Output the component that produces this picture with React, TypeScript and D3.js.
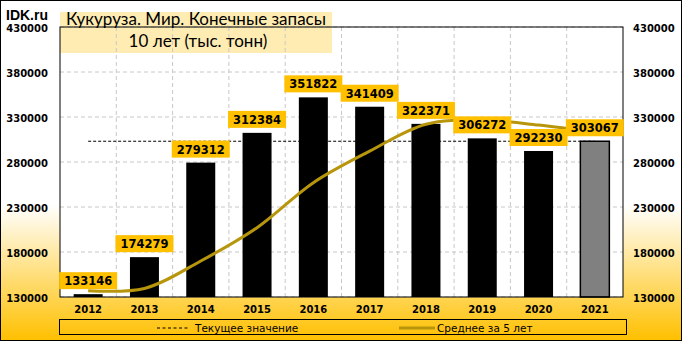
import React from "react";
import * as d3 from "d3";

const years = ["2012", "2013", "2014", "2015", "2016", "2017", "2018", "2019", "2020", "2021"];
const stocks = [133146, 174279, 279312, 312384, 351822, 341409, 322371, 306272, 292230, 303067];
const avg5 = [137000, 139500, 170000, 207000, 257000, 292000, 322000, 326500, 321000, 313000];
const currentValue = 303067;
const yTicks = [130000, 180000, 230000, 280000, 330000, 380000, 430000];
const titleLine1 = "Кукуруза. Мир. Конечные запасы";
const titleLine2 = "10 лет (тыс. тонн)";
const legendLabels = ["Текущее значение", "Среднее за 5 лет"];

const W = 682;
const H = 341;
const L = 60;
const R = 623;
const T = 27;
const B = 297;

export default function App() {
  const x = d3.scaleBand<string>().domain(years).range([L, R]).paddingInner(0).paddingOuter(0);
  const y = d3.scaleLinear().domain([130000, 430000]).range([B, T]);
  const bw = x.bandwidth() * 0.515;
  const cx = (yr: string) => (x(yr) as number) + x.bandwidth() / 2;

  const line = d3
    .line<number>()
    .x((_, i) => cx(years[i]))
    .y((d) => y(d))
    .curve(d3.curveCatmullRom.alpha(0.5));

  const numFont = "'DejaVu Sans', Verdana, sans-serif";

  return (
    <div style={{ position: "absolute", left: 0, top: 0 }}>
      <svg width={W} height={H} style={{ display: "block" }}>
        <defs>
          <linearGradient id="bg" x1="0" y1="0" x2="0" y2="1">
            <stop offset="0" stopColor="#ffffff" />
            <stop offset="0.6" stopColor="#ffffff" />
            <stop offset="1" stopColor="#ffc000" />
          </linearGradient>
          <clipPath id="plotclip">
            <rect x={L} y={T} width={R - L} height={B - T} />
          </clipPath>
        </defs>
        <rect x={0.5} y={0.5} width={W - 1} height={H - 1} fill="url(#bg)" stroke="#000" />
        <rect x={L} y={T} width={R - L} height={B - T} fill="#fff" />

        {/* title box */}
        <rect x={60} y={12} width={272} height={41} fill="#ffe699" opacity={0.75} />

        {/* grid */}
        {yTicks.map((t) => (
          <line key={"h" + t} x1={L} x2={R} y1={y(t)} y2={y(t)} stroke="#c8c8c8" strokeDasharray="4,3" />
        ))}
        {years.slice(1).map((yr) => (
          <line key={"v" + yr} x1={x(yr)} x2={x(yr)} y1={T} y2={B} stroke="#c8c8c8" strokeDasharray="4,3" />
        ))}

        {/* current value dashed line */}
        <line
          x1={cx(years[0])}
          x2={cx(years[years.length - 1])}
          y1={y(currentValue)}
          y2={y(currentValue)}
          stroke="#000"
          strokeDasharray="3,2"
        />

        {/* bars */}
        {stocks.map((v, i) => {
          const last = i === stocks.length - 1;
          return (
            <rect
              key={"b" + i}
              x={cx(years[i]) - bw / 2}
              y={y(v)}
              width={bw}
              height={B - y(v)}
              fill={last ? "#808080" : "#000"}
              stroke="#000"
              strokeWidth={last ? 1.5 : 0}
            />
          );
        })}

        {/* average line */}
        <path d={line(avg5) || ""} fill="none" stroke="#b8960c" strokeWidth={3} clipPath="url(#plotclip)" />

        {/* plot border */}
        <rect x={L} y={T} width={R - L} height={B - T} fill="none" stroke="#000" />

        {/* labels */}
        {stocks.map((v, i) => {
          const c = cx(years[i]);
          const bottom = y(v) - 5;
          return (
            <g key={"l" + i}>
              <rect x={c - 29} y={bottom - 17} width={58} height={17} fill="#ffc000" />
              <text
                x={c}
                y={bottom - 4}
                textAnchor="middle"
                fontFamily={numFont}
                fontWeight="bold"
                fontSize={11.5}
                fill="#000"
              >
                {v}
              </text>
            </g>
          );
        })}

        {/* axes labels */}
        {yTicks.map((t) => (
          <g key={"yl" + t}>
            <text x={48} y={y(t) + 4.5} textAnchor="end" fontFamily={numFont} fontWeight="bold" fontSize={10}>
              {t}
            </text>
            <text x={633} y={y(t) + 4.5} textAnchor="start" fontFamily={numFont} fontWeight="bold" fontSize={10}>
              {t}
            </text>
          </g>
        ))}
        {years.map((yr) => (
          <text key={"x" + yr} x={cx(yr)} y={313} textAnchor="middle" fontFamily={numFont} fontWeight="bold" fontSize={10}>
            {yr}
          </text>
        ))}

        {/* title */}
        <text x={6} y={19.5} fontFamily="'Liberation Sans', Arial, sans-serif" fontWeight="bold" fontSize={14}>
          IDK.ru
        </text>
        <text x={196} y={25} textAnchor="middle" fontFamily="Lato, 'Open Sans', sans-serif" fontSize={17}>
          {titleLine1}
        </text>
        <text x={198} y={47} textAnchor="middle" fontFamily="Lato, 'Open Sans', sans-serif" fontSize={17}>
          {titleLine2}
        </text>

        {/* legend */}
        <rect x={59.5} y={319.5} width={567} height={15} fill="none" stroke="#000" />
        <line x1={157} x2={190} y1={328} y2={328} stroke="#000" strokeDasharray="3,2.5" />
        <text x={195} y={331.5} fontFamily={numFont} fontSize={10.5}>
          {legendLabels[0]}
        </text>
        <line x1={399} x2={435} y1={328} y2={328} stroke="#b8960c" strokeWidth={3} />
        <text x={437} y={331.5} fontFamily={numFont} fontSize={10.5}>
          {legendLabels[1]}
        </text>
      </svg>
    </div>
  );
}
